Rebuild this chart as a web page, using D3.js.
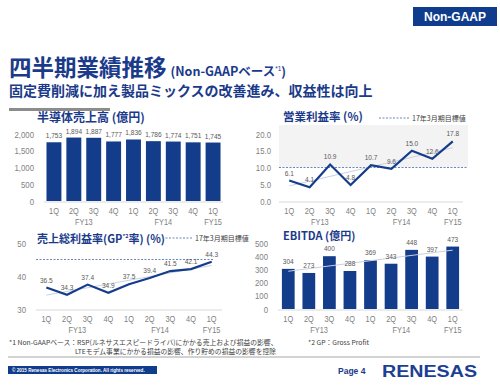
<!DOCTYPE html>
<html>
<head>
<meta charset="utf-8">
<script src="https://cdn.jsdelivr.net/npm/d3@7"></script>
<style>
  body { margin: 0; background: #fff; }
  svg { display: block; }
  text { font-family: "Liberation Sans", Arial, sans-serif; }
  .jp { font-family: "Noto Sans CJK JP", sans-serif; }
</style>
</head>
<body>
<script>
// data
var quarters = ["1Q", "2Q", "3Q", "4Q", "1Q", "2Q", "3Q", "4Q", "1Q"];
var fyLabels = ["FY13", "FY14", "FY15"];
var fyFirst = [0, 4, 8];
var fyLast = [3, 7, 8];

var sales = [1753, 1894, 1887, 1777, 1836, 1786, 1774, 1751, 1745];
var salesTicks = [0, 500, 1000, 1500, 2000];

var opMargin = [6.1, 4.1, 10.9, 4.8, 10.7, 9.6, 15.0, 12.6, 17.8];
var opTicks = [0, 5, 10, 15, 20];
var opTrend = [4.5, 15.9];
var opTarget = 10;

var gpMargin = [36.5, 34.3, 37.4, 34.9, 37.5, 39.4, 41.5, 42.1, 44.3];
var gpTicks = [30, 40, 50];
var gpTrend = [34.2, 43.2];
var gpTarget = 45;

var ebitda = [304, 273, 400, 288, 369, 343, 448, 397, 473];
var ebitdaTicks = [0, 100, 200, 300, 400, 500];
var ebitdaTrend = [286, 446];

var navy = "#133c8b";
var titleBlue = "#1a3a8a";
var grey = "#808080";
var squeeze = 0.82; // the slide uses a narrow face for numbers

var width = 500, height = 385;
var svg = d3.select("body").append("svg")
  .attr("width", width)
  .attr("height", height);

// ---- header ----
svg.append("rect").attr("x", 413).attr("y", 7).attr("width", 84).attr("height", 19).attr("fill", "#0f3c8c");
svg.append("text").attr("x", 455).attr("y", 21).attr("text-anchor", "middle")
  .attr("fill", "#fff").style("font-size", "12px").style("font-weight", "bold").text("Non-GAAP");

var ttl = svg.append("text").attr("x", 9).attr("y", 76).attr("fill", titleBlue);
ttl.append("tspan").attr("class", "jp").style("font-size", "22.5px").style("font-weight", "bold").text("四半期業績推移");
ttl.append("tspan").attr("class", "jp").attr("dx", 4).style("font-size", "12.5px").style("font-weight", "bold").text("(Non-GAAPベース");
ttl.append("tspan").style("font-size", "6.5px").attr("dy", -5).text("*1");
ttl.append("tspan").attr("class", "jp").style("font-size", "12.5px").style("font-weight", "bold").attr("dy", 5).text(")");

svg.append("text").attr("class", "jp").attr("x", 9).attr("y", 96).attr("fill", titleBlue)
  .style("font-size", "14px").style("font-weight", "bold")
  .text("固定費削減に加え製品ミックスの改善進み、収益性は向上");

svg.append("rect").attr("x", 9).attr("y", 108).attr("width", 101).attr("height", 3).attr("fill", "#8c8c8c");

// ---- shared helpers ----
function xBand(x0, x1, pad) {
  return d3.scaleBand().domain(d3.range(quarters.length)).range([x0, x1]).paddingInner(pad).paddingOuter(pad / 2);
}

function narrow(sel, fx, fy) {
  sel.attr("transform", function(d, i) {
    return "translate(" + fx(d, i) + "," + fy(d, i) + ") scale(" + squeeze + ",1)";
  });
}

function drawCategories(x, yBase) {
  var g = svg.append("g");
  g.append("line").attr("x1", x.range()[0]).attr("x2", x.range()[1])
    .attr("y1", yBase).attr("y2", yBase).attr("stroke", "#d9d9d9");
  g.selectAll(".q").data(quarters).enter().append("text")
    .attr("text-anchor", "middle").attr("fill", grey).style("font-size", "9px")
    .text(function(d) { return d; })
    .call(narrow, function(d, i) { return x(i) + x.bandwidth() / 2; }, function() { return yBase + 12; });
  g.selectAll(".fy").data(fyLabels).enter().append("text")
    .attr("text-anchor", "middle").attr("fill", grey).style("font-size", "9px")
    .text(function(d) { return d; })
    .call(narrow, function(d, i) { return (x(fyFirst[i]) + x(fyLast[i]) + x.bandwidth()) / 2; },
      function() { return yBase + 22.5; });
}

function drawYAxis(y, ticks, fmt, xRight) {
  var ax = svg.append("g")
    .attr("transform", "translate(" + xRight + ",0)")
    .call(d3.axisLeft(y).tickValues(ticks).tickFormat(fmt).tickSize(0).tickPadding(0));
  ax.select(".domain").remove();
  ax.selectAll("text").attr("fill", grey).style("font-size", "9.5px")
    .style("font-family", "'Liberation Sans', Arial, sans-serif")
    .attr("transform", "scale(" + squeeze + ",1)");
}

function drawValues(x, y, vals, fmt, off) {
  svg.append("g").selectAll("text").data(vals).enter().append("text")
    .attr("text-anchor", "middle").attr("fill", "#595959").style("font-size", "8px")
    .text(function(d) { return fmt(d); })
    .call(narrow, function(d, i) { return x(i) + x.bandwidth() / 2; }, function(d) { return y(d) - off; });
}

function drawTrend(x, y, tr) {
  svg.append("line")
    .attr("x1", x(0) + x.bandwidth() / 2).attr("y1", y(tr[0]))
    .attr("x2", x(quarters.length - 1) + x.bandwidth() / 2).attr("y2", y(tr[1]))
    .attr("stroke", "#c9d1e3").attr("stroke-width", 1);
}

function legendTarget(x0, yy) {
  svg.append("line").attr("x1", x0).attr("x2", x0 + 30).attr("y1", yy).attr("y2", yy)
    .attr("stroke", "#6a86c0").attr("stroke-dasharray", "2,1.5");
  svg.append("text").attr("class", "jp").attr("x", x0 + 33).attr("y", yy + 2.5)
    .attr("fill", "#404040").style("font-size", "7px").text("17年3月期目標値");
}

function panelTitle(x0, yy, size, parts) {
  var t = svg.append("text").attr("class", "jp").attr("x", x0).attr("y", yy)
    .attr("fill", titleBlue).style("font-size", size + "px").style("font-weight", "bold");
  parts.forEach(function(p) {
    var s = t.append("tspan").text(p.t);
    if (p.sup) s.style("font-size", (size * 0.5) + "px").attr("dy", -5);
    if (p.down) s.attr("dy", 5);
  });
}

var lineGen = function(x, y) {
  return d3.line()
    .x(function(d, i) { return x(i) + x.bandwidth() / 2; })
    .y(function(d) { return y(d); });
};

// ---- panel 1: semiconductor sales (bars) ----
var x1 = xBand(44, 223, 0.25);
var y1 = d3.scaleLinear().domain([0, 2000]).range([201, 134]);
panelTitle(37, 122, 12, [{t: "半導体売上高 (億円)"}]);
drawYAxis(y1, salesTicks, d3.format(","), 34);
svg.append("g").selectAll("rect").data(sales).enter().append("rect")
  .attr("x", function(d, i) { return x1(i); })
  .attr("y", function(d) { return y1(d); })
  .attr("width", x1.bandwidth())
  .attr("height", function(d) { return y1(0) - y1(d); })
  .attr("fill", navy);
drawCategories(x1, 202);
drawValues(x1, y1, sales, d3.format(","), 4);

// ---- panel 2: operating margin (line) ----
var x2 = xBand(279, 463, 0.3);
var y2 = d3.scaleLinear().domain([0, 20]).range([201, 134]);
var y2Top = 22.7;
svg.append("rect").attr("x", 279).attr("width", 189)
  .attr("y", y2(y2Top)).attr("height", y2(opTarget) - y2(y2Top)).attr("fill", "#f3f3f3");
panelTitle(283, 121, 11.5, [{t: "営業利益率 (%)"}]);
legendTarget(379, 118);
drawYAxis(y2, opTicks, d3.format(".1f"), 271);
svg.append("line").attr("x1", 279).attr("x2", 468).attr("y1", y2(opTarget)).attr("y2", y2(opTarget))
  .attr("stroke", "#6a86c0").attr("stroke-dasharray", "2,1.5");
drawTrend(x2, y2, opTrend);
svg.append("path").datum(opMargin).attr("d", lineGen(x2, y2))
  .attr("fill", "none").attr("stroke", navy).attr("stroke-width", 2.2);
drawCategories(x2, 202);
drawValues(x2, y2, opMargin, d3.format(".1f"), 5);

// ---- panel 3: gross margin (line) ----
var x3 = xBand(36, 222, 0.3);
var y3 = d3.scaleLinear().domain([30, 50]).range([309, 243]);
panelTitle(37, 243, 11, [{t: "売上総利益率(GP"}, {t: "*2", sup: true}, {t: "率) (%)", down: true}]);
legendTarget(162, 238);
drawYAxis(y3, gpTicks, d3.format("d"), 26);
svg.append("line").attr("x1", 36).attr("x2", 213).attr("y1", y3(gpTarget)).attr("y2", y3(gpTarget))
  .attr("stroke", "#6a86c0").attr("stroke-dasharray", "2,1.5");
drawTrend(x3, y3, gpTrend);
svg.append("path").datum(gpMargin).attr("d", lineGen(x3, y3))
  .attr("fill", "none").attr("stroke", navy).attr("stroke-width", 2.2);
drawCategories(x3, 310);
drawValues(x3, y3, gpMargin, d3.format(".1f"), 5);

// ---- panel 4: EBITDA (bars) ----
var x4 = xBand(278, 463, 0.38);
var y4 = d3.scaleLinear().domain([0, 500]).range([309, 243]);
panelTitle(283, 240, 11, [{t: "EBITDA (億円)"}]);
drawYAxis(y4, ebitdaTicks, d3.format("d"), 268);
svg.append("g").selectAll("rect").data(ebitda).enter().append("rect")
  .attr("x", function(d, i) { return x4(i); })
  .attr("y", function(d) { return y4(d); })
  .attr("width", x4.bandwidth())
  .attr("height", function(d) { return y4(0) - y4(d); })
  .attr("fill", navy);
drawTrend(x4, y4, ebitdaTrend);
drawCategories(x4, 310);
drawValues(x4, y4, ebitda, d3.format("d"), 5);

// ---- footnotes & footer ----
svg.append("text").attr("class", "jp").attr("x", 9).attr("y", 345).attr("fill", "#404040").style("font-size", "6.8px")
  .text("*1 Non-GAAPベース：RSP(ルネサスエスピードライバ)にかかる売上および損益の影響、");
svg.append("text").attr("class", "jp").attr("x", 75).attr("y", 354).attr("fill", "#404040").style("font-size", "6.8px")
  .text("LTEモデム事業にかかる損益の影響、作り貯めの損益の影響を控除");
svg.append("text").attr("class", "jp").attr("x", 308).attr("y", 345).attr("fill", "#404040").style("font-size", "6.8px")
  .text("*2 GP：Gross Profit");

svg.append("line").attr("x1", 8).attr("x2", 480).attr("y1", 357).attr("y2", 357).attr("stroke", "#a6a6a6");
svg.append("rect").attr("x", 8).attr("y", 366).attr("width", 149).attr("height", 8).attr("fill", "#0f3c8c");
svg.append("text").attr("x", 12).attr("y", 372).attr("fill", "#fff").style("font-size", "4.6px").style("font-weight", "bold")
  .text("© 2015 Renesas Electronics Corporation. All rights reserved.");
svg.append("text").attr("x", 338).attr("y", 374).attr("fill", "#1a3a8a").style("font-size", "8.5px").style("font-weight", "bold")
  .text("Page 4");
svg.append("text").attr("x", 382).attr("y", 377).attr("fill", "#1c3f94")
  .style("font-size", "16px").style("font-weight", "bold")
  .attr("textLength", 95).attr("lengthAdjust", "spacingAndGlyphs").text("RENESAS");
</script>
</body>
</html>
